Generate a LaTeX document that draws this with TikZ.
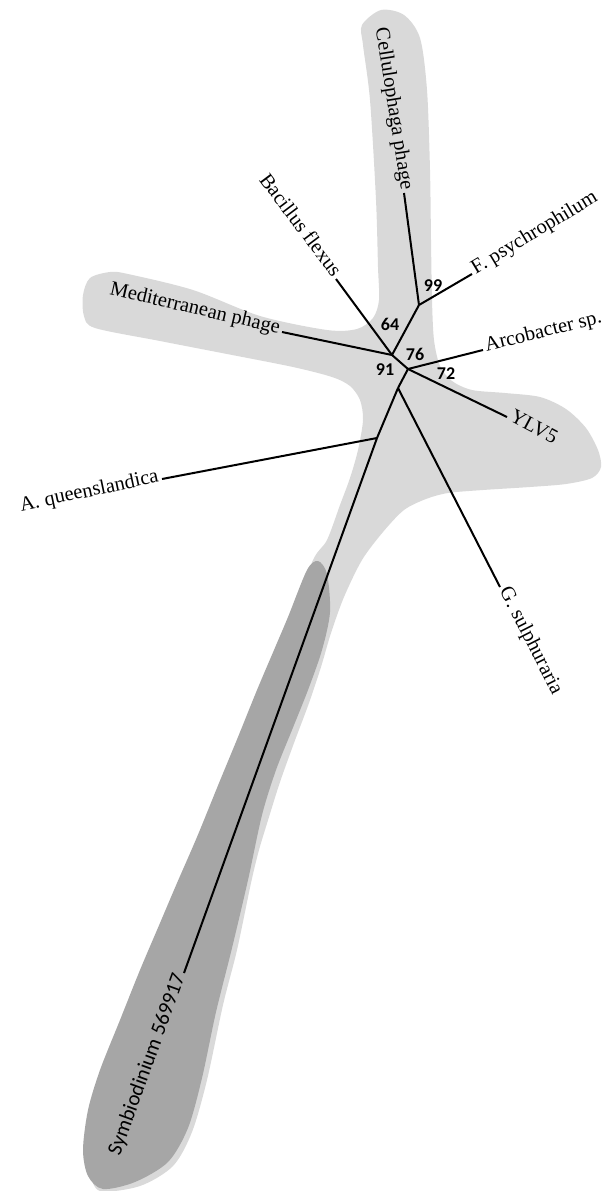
\documentclass[tikz,border=0pt]{standalone}
\usepackage{fontspec}
\setmainfont{Liberation Serif}
\newfontfamily\bsfont{Carlito}
\definecolor{zoneLight}{HTML}{D9D9D9}
\definecolor{zoneDark}{HTML}{A6A6A6}
\begin{document}
\begin{tikzpicture}[x=1pt,y=-1pt,
  branch/.style={line width=2pt},
  leaf/.style={font=\fontsize{20.5}{24}\selectfont, inner sep=3pt},
  symleaf/.style={font=\bsfont\fontsize{21}{24}\selectfont, inner sep=3pt},
  boot/.style={font=\bsfont\bfseries\fontsize{18}{20}\selectfont, inner sep=0pt}]
\useasboundingbox (0,0) rectangle (611,1191);
% light zone
\fill[zoneLight] plot[smooth cycle, tension=0.5] coordinates {
 (381,10) (404,15) (420,38) (427,90) (430,170) (431,240) (432,300) (434,340)
 (440,366) (452,381) (472,390) (505,393) (540,397) (566,409) (586,428) (598,450)
 (601,467) (592,478) (566,484) (530,487) (483,490) (448,493) (426,499) (404,510)
 (383,532) (362,560) (344,597) (331,633) (321,667) (309,703) (294,743) (280,782)
 (269,817) (259,850) (251,883) (237,950) (223,1005) (207,1080) (192,1132)
 (173,1166) (140,1186) (100,1191) (90,1172) (90,1150) (94,1110) (106,1070)
 (124,1020) (144,970) (164,923) (181,883) (201,837) (223,783) (242,737)
 (261,690) (278,650) (292,617) (313,560) (327,540) (340,505) (350,478)
 (358,450) (363,420) (360,400) (350,386) (332,377) (293,367) (227,354)
 (160,341) (95,328) (84,316) (83,295) (90,278) (110,272) (128,274) (193,290)
 (260,316) (327,330) (357,329) (373,318) (379,300) (378,267) (376,200)
 (370,100) (363,45) (362,25)};
% dark zone
\fill[zoneDark] plot[smooth cycle, tension=0.5] coordinates {
 (318,561) (327,574) (330,612) (322,650) (308,690) (292,730) (276,770)
 (262,815) (248,880) (232,948) (216,1012) (202,1078) (188,1128) (168,1162)
 (135,1182) (103,1189) (88,1176) (83,1150) (88,1110) (100,1070) (120,1020)
 (140,970) (160,923) (177,883) (197,837) (219,783) (238,737) (257,690)
 (274,650) (288,617) (307,570)};
% internal nodes
\coordinate (n99) at (419,305);
\coordinate (n1) at (392,355);
\coordinate (n2) at (408,369);
\coordinate (n3) at (398,388);
\coordinate (n4) at (377,438);
% leaf tips
\coordinate (tCell) at (404,193);
\coordinate (tFpsy) at (472,274);
\coordinate (tBac) at (336,279);
\coordinate (tMed) at (282,332);
\coordinate (tArc) at (483,350);
\coordinate (tYlv) at (507,417);
\coordinate (tGs) at (500,587);
\coordinate (tAq) at (162,479);
\coordinate (tSym) at (184,973);
% branches
\draw[branch] (n99) -- (tCell);
\draw[branch] (n99) -- (tFpsy);
\draw[branch] (n99) -- (n1);
\draw[branch] (n1) -- (tBac);
\draw[branch] (n1) -- (tMed);
\draw[branch] (n1) -- (n2);
\draw[branch] (n2) -- (tArc);
\draw[branch] (n2) -- (tYlv);
\draw[branch] (n2) -- (n3);
\draw[branch] (n3) -- (tGs);
\draw[branch] (n3) -- (n4);
\draw[branch] (n4) -- (tAq);
\draw[branch] (n4) -- (tSym);
% leaf labels
\node[leaf, anchor=mid east, rotate=-81] (lCell) at (tCell) {Cellulophaga phage};
\node[leaf, anchor=mid west, rotate=31] (lFpsy) at (tFpsy) {F. psychrophilum};
\node[leaf, anchor=mid east, rotate=-53] (lBac) at (tBac) {Bacillus flexus};
\node[leaf, anchor=mid east, rotate=-13] (lMed) at (tMed) {Mediterranean phage};
\node[leaf, anchor=mid west, rotate=14] (lArc) at (tArc) {Arcobacter sp.};
\node[leaf, anchor=mid west, rotate=-28] (lYlv) at (tYlv) {YLV5};
\node[leaf, anchor=mid west, rotate=-63] (lGs) at (tGs) {G. sulphuraria};
\node[leaf, anchor=mid east, rotate=12] (lAq) at (tAq) {A. queenslandica};
\node[symleaf, anchor=mid east, rotate=70] (lSym) at (tSym) {Symbiodinium 569917};
% bootstrap values
\node[boot] (b99) at (433,286) {99};
\node[boot] (b64) at (390,324) {64};
\node[boot] (b76) at (415,354) {76};
\node[boot] (b91) at (385,370) {91};
\node[boot] (b72) at (446,374) {72};
\end{tikzpicture}
\end{document}
